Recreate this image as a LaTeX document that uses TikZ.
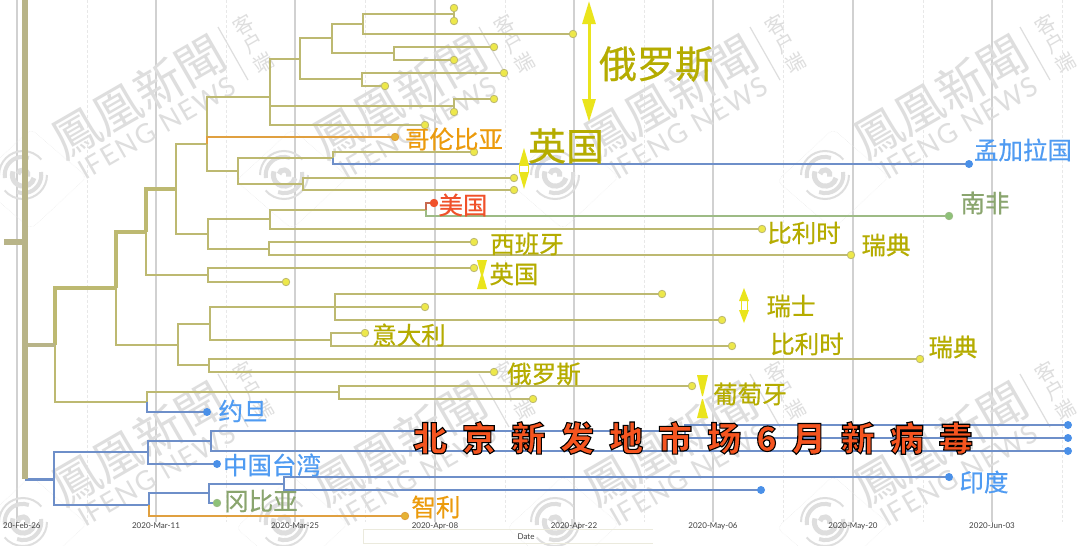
\documentclass[tikz,border=0pt]{standalone}
\usepackage{fontspec}
\setmainfont[FakeBold=0.6]{Noto Sans CJK SC}
\setsansfont{Lato}
\newfontfamily\wmfont{Noto Sans CJK TC}
\newfontfamily\wmlatin[LetterSpace=6]{Lato}
\newfontfamily\headfont[FakeBold=3.2]{Noto Sans CJK SC Black}
\usetikzlibrary{arrows.meta}
\definecolor{olv}{HTML}{BDB971}
\definecolor{khk}{HTML}{B8B488}
\definecolor{blu}{HTML}{6E8FC9}
\definecolor{org}{HTML}{E0A040}
\definecolor{grn}{HTML}{9DBB85}
\definecolor{rdl}{HTML}{C86A50}
\definecolor{ylw}{HTML}{EDE84A}
\definecolor{yarr}{HTML}{EAE41C}
\definecolor{tblu}{HTML}{4A90E8}
\definecolor{lolv}{HTML}{B5AC00}
\definecolor{lblu}{HTML}{4F9BF2}
\definecolor{lorg}{HTML}{EC9B0C}
\definecolor{lred}{HTML}{F0512A}
\definecolor{lgrn}{HTML}{8AA56E}
\definecolor{wm}{HTML}{DEDEDE}
\tikzset{
	br/.style={line width=2pt, color=olv},
	brm/.style={line width=2.6pt, color=olv},
	brt/.style={line width=3.4pt, color=olv},
	brb/.style={line width=2pt, color=blu},
	tip/.style={circle, inner sep=0pt, minimum size=7.5pt, fill=ylw, draw=olv, line width=0.8pt},
	tipb/.style={circle, inner sep=0pt, minimum size=8pt, fill=tblu},
	lab/.style={text=lolv, font=\fontsize{24.5}{24.5}\selectfont, inner sep=0pt},
	labb/.style={lab, text=lblu},
	gridmaj/.style={line width=1.2pt, color=black!18},
	gridmin/.style={line width=0.9pt, color=black!9, densely dashed},
	axl/.style={font=\sffamily\fontsize{8}{8}\selectfont, text=black!75, inner sep=0pt},
	bowt/.style={fill=yarr, draw=none},
	yarw/.style={color=yarr, line width=3pt},
	ybox/.style={fill=white, draw=yarr, line width=1pt}
}
\def\watermark(#1,#2){
	\begin{scope}[shift={(#1,#2)}]
		\draw[wm!60, line width=0.5pt, densely dotted, rounded corners=6pt] (-48,6) -- (8,-46) -- (64,2) -- (8,54) -- cycle;
		\draw[wm, line width=2pt] (24,0) arc (0:140:24);
		\draw[wm, line width=2pt] (-24,0) arc (180:320:24);
		\draw[wm, line width=4pt] (18,-3) arc (-10:110:18);
		\draw[wm, line width=4pt] (-18,3) arc (170:290:18);
		\draw[wm, line width=5pt] (11,3) arc (15:200:11);
		\draw[wm, line width=5pt] (-5,-1) arc (190:380:5);
		\node[rotate=30, text=wm, font=\wmfont\fontsize{48}{48}\selectfont, inner sep=0pt] at (115,-78) {鳳凰新聞};
		\draw[wm, line width=1.2pt] (195,-148) -- (225,-95);
		\node[rotate=30, text=wm, font=\wmfont\fontsize{20}{20}\selectfont, inner sep=0pt] at (220,-150) {客};
		\node[rotate=30, text=wm, font=\wmfont\fontsize{20}{20}\selectfont, inner sep=0pt] at (230,-132) {户};
		\node[rotate=30, text=wm, font=\wmfont\fontsize{20}{20}\selectfont, inner sep=0pt] at (240,-112) {端};
		\node[rotate=30, text=wm, font=\wmlatin\fontsize{27}{27}\selectfont, inner sep=0pt] at (134,-47) {IFENG NEWS};
	\end{scope}
}
\begin{document}
\begin{tikzpicture}[x=1pt,y=-1pt]
	\useasboundingbox (0,0) rectangle (1080,546);
	\fill[white] (0,0) rectangle (1080,546);
	
	%%%%% GRID %%%%%
	\draw[gridmaj] (17,0) -- (17,522);
	\draw[gridmin] (87,0) -- (87,522);
	\draw[gridmaj] (156,0) -- (156,522);
	\draw[gridmin] (226,0) -- (226,522);
	\draw[gridmaj] (295,0) -- (295,522);
	\draw[gridmin] (365,0) -- (365,522);
	\draw[gridmaj] (435,0) -- (435,522);
	\draw[gridmin] (505,0) -- (505,522);
	\draw[gridmaj] (574,0) -- (574,522);
	\draw[gridmin] (644,0) -- (644,522);
	\draw[gridmaj] (713,0) -- (713,522);
	\draw[gridmin] (783,0) -- (783,522);
	\draw[gridmaj] (853,0) -- (853,522);
	\draw[gridmin] (923,0) -- (923,522);
	\draw[gridmaj] (992,0) -- (992,522);
	\draw[gridmin] (1062,0) -- (1062,522);
	
	%%%%% WATERMARKS %%%%%
	\watermark(23,175)
	\watermark(284,175)
	\watermark(555,175)
	\watermark(825,175)
	\watermark(23,522)
	\watermark(284,522)
	\watermark(555,522)
	\watermark(825,522)
	
	%%%%% AXIS %%%%%
	\node[axl, anchor=west] (ax0) at (3,526) {20-Feb-26};
	\node[axl] (ax1) at (156,526) {2020-Mar-11};
	\node[axl] (ax2) at (295,526) {2020-Mar-25};
	\node[axl] (ax3) at (435,526) {2020-Apr-08};
	\node[axl] (ax4) at (574,526) {2020-Apr-22};
	\node[axl] (ax5) at (713,526) {2020-May-06};
	\node[axl] (ax6) at (853,526) {2020-May-20};
	\node[axl] (ax7) at (992,526) {2020-Jun-03};
	\draw[line width=0.8pt, color=yellow!40!black!15] (363,543) -- (363,529) -- (653,529);
	\draw[line width=0.8pt, color=yellow!40!black!15] (363,543) -- (653,543);
	\node[axl] (axdate) at (526,537) {Date};
	
	%%%%% TREE POINTS %%%%%
	\coordinate (rtop) at (25,0);
	\coordinate (rbot) at (25,479);
	\coordinate (stem) at (4,242);
	\coordinate (root) at (25,242);
	\coordinate (ca) at (55,345);
	\coordinate (cb) at (116,288);
	\coordinate (cc) at (146,232);
	\coordinate (cd) at (176,189);
	\coordinate (ce) at (207,144);
	\coordinate (cf) at (270,97);
	\coordinate (cg) at (300,59);
	\coordinate (ch) at (332,38);
	\coordinate (ci) at (363,24);
	\coordinate (cj) at (454,14);
	\coordinate (ck) at (394,53);
	\coordinate (cl) at (362,79);
	\coordinate (cm) at (454,106);
	\coordinate (cn) at (238,171);
	\coordinate (co) at (333,158);
	\coordinate (cp) at (303,184);
	\coordinate (cq) at (208,234);
	\coordinate (cr) at (270,219);
	\coordinate (cs) at (426,210);
	\coordinate (ct) at (269,249);
	\coordinate (cu) at (208,275);
	\coordinate (cv) at (178,345);
	\coordinate (cw) at (210,324);
	\coordinate (cx) at (335,307);
	\coordinate (cy) at (331,340);
	\coordinate (cz) at (209,365);
	\coordinate (da) at (147,402);
	\coordinate (db) at (339,392);
	\coordinate (ea) at (54,479);
	\coordinate (eb) at (148,452);
	\coordinate (ec) at (211,441);
	\coordinate (ed) at (685,431);
	\coordinate (ee) at (149,505);
	\coordinate (ef) at (209,493);
	\coordinate (eg) at (284,484);
	
	%%%%% BRANCHES %%%%%
	\draw[brt] (ca) |- (cb);
	\draw[brm] (ca) |- (da);
	\draw[brt] (cb) |- (cc);
	\draw[brm] (cb) |- (cv);
	\draw[brt] (cc) |- (cd);
	\draw[br] (cc) |- (cu);
	\draw[brm] (cd) |- (ce);
	\draw[br] (cd) |- (cq);
	\draw[brm] (ce) |- (cf);
	\draw[br] (ce) |- (cn);
	\draw[br] (cf) |- (cg);
	\draw[br] (cg) |- (ch);
	\draw[br] (ch) |- (ci);
	\draw[br] (ci) |- (cj);
	\draw[br] (ch) |- (ck);
	\draw[br] (cg) |- (cl);
	\draw[br] (cf) |- (cm);
	\draw[br] (cn) |- (co);
	\draw[br] (cn) |- (cp);
	\draw[br] (cq) |- (cr);
	\draw[br] (cq) |- (ct);
	\draw[br] (cr) |- (cs);
	\draw[br] (cv) |- (cw);
	\draw[br] (cv) |- (cz);
	\draw[br] (cw) |- (cx);
	\draw[br] (cw) |- (cy);
	\draw[br] (da) |- (db);
	
	%%%%% TIPS %%%%%
	\draw[br] (ci) |- (573,34) node[tip] (t01) {};
	\draw[br] (cj) |- (454,8) node[tip] (t02) {};
	\draw[br] (cj) |- (454,21) node[tip] (t03) {};
	\draw[br] (ck) |- (494,47) node[tip] (t04) {};
	\draw[br] (ck) |- (454,60) node[tip] (t05) {};
	\draw[br] (cl) |- (504,73) node[tip] (t06) {};
	\draw[br] (cl) |- (385,86) node[tip] (t07) {};
	\draw[br] (cm) |- (494,99) node[tip] (t08) {};
	\draw[br] (cm) |- (454,112) node[tip] (t09) {};
	\draw[br] (cf) |- (425,125) node[tip] (t10) {};
	\draw[line width=1.6pt, color=org] (ce) |- (395,137) node[tip, fill=org!80!yellow, draw=org] (t11) {};
	\draw[br] (co) |- (474,152) node[tip] (t12) {};
	\draw[line width=2pt, color=blu] (co) |- (969,164) node[tipb] (t13) {};
	\draw[br] (cp) |- (514,178) node[tip] (t14) {};
	\draw[br] (cp) |- (514,190) node[tip] (t15) {};
	\draw[line width=1.6pt, color=rdl] (cs) |- (434,203) node[tip, fill=lred, draw=lred] (t16) {};
	\draw[line width=1.8pt, color=grn] (cs) |- (949,216) node[tip, fill=grn!90!green, draw=grn] (t17) {};
	\draw[br] (cr) |- (762,229) node[tip] (t18) {};
	\draw[br] (ct) |- (474,242) node[tip] (t19) {};
	\draw[br] (ct) |- (851,255) node[tip] (t20) {};
	\draw[br] (cu) |- (474,268) node[tip] (t21) {};
	\draw[br] (cu) |- (286,282) node[tip] (t22) {};
	\draw[br] (cx) |- (662,294) node[tip] (t23) {};
	\draw[br] (cx) -- (425,307) node[tip] (t24) {};
	\draw[br] (cx) |- (722,320) node[tip] (t25) {};
	\draw[br] (cy) |- (365,333) node[tip] (t26) {};
	\draw[br] (cy) |- (732,346) node[tip] (t27) {};
	\draw[br] (cz) |- (920,359) node[tip] (t28) {};
	\draw[br] (cz) |- (494,372) node[tip] (t29) {};
	\draw[br] (db) |- (692,386) node[tip] (t30) {};
	\draw[br] (db) |- (533,399) node[tip] (t31) {};
	\draw[brb] (da) |- (207,412) node[tipb] (t32) {};
	
	%%%%% BLUE PART %%%%%
	\draw[brb] (ea) |- (eb);
	\draw[brb] (ea) |- (ee);
	\draw[brb] (eb) |- (ec);
	\draw[brb] (eb) |- (217,464) node[tipb] (t33) {};
	\draw[brb] (ec) |- (ed);
	\draw[brb] (ed) |- (1068,425) node[tipb] (t34) {};
	\draw[brb] (ed) |- (1068,438) node[tipb] (t35) {};
	\draw[brb] (ec) |- (1068,451) node[tipb] (t36) {};
	\draw[brb] (ee) |- (ef);
	\draw[line width=1.8pt, color=org] (ee) |- (405,516) node[tip, fill=org!80!yellow, draw=org] (t37) {};
	\draw[brb] (ef) |- (eg);
	\draw[line width=1.8pt, color=blu] (ef) |- (217,503) node[tip, fill=grn!90!green, draw=grn] (t38) {};
	\draw[brb] (eg) |- (949,477) node[tipb] (t39) {};
	\draw[brb] (eg) |- (761,490) node[tipb] (t40) {};
	
	%%%%% ROOT %%%%%
	\draw[line width=3pt, color=blu] (rbot) -- (ea);
	\draw[line width=3.4pt, color=khk] (root |- ca) -- (ca);
	\draw[line width=6pt, color=khk] (rtop) -- (rbot);
	\draw[line width=6pt, color=khk] (stem) -- (root);
	
	%%%%% ARROWS %%%%%
	\coordinate (ar1a) at (589,1);
	\coordinate (ar1b) at (589,122);
	\draw[yarw, {Triangle[length=23pt,width=13pt]}-{Triangle[length=23pt,width=13pt]}] (ar1a) -- (ar1b);
	\fill[ybox] (519.5,165) rectangle (528.5,172);
	\fill[bowt] (524,148) -- (529,165) -- (519,165) -- cycle;
	\fill[bowt] (524,189) -- (529,172) -- (519,172) -- cycle;
	\fill[ybox] (741,300) rectangle (747,311);
	\fill[bowt] (744,288) -- (749,301) -- (739,301) -- cycle;
	\fill[bowt] (744,323) -- (749,310) -- (739,310) -- cycle;
	\fill[bowt] (477,260) -- (487,260) -- (483,275) -- (487,289) -- (477,289) -- (481,275) -- cycle;
	\fill[bowt] (697,375) -- (708,375) -- (703,396) -- (702,396) -- cycle;
	\fill[bowt] (702,399) -- (703,399) -- (708,418) -- (697,418) -- cycle;
	
	%%%%% LABELS %%%%%
	\node[lab, font=\fontsize{38}{38}\selectfont] (ruA) at (656,64) {俄罗斯};
	\node[lab, font=\fontsize{38}{38}\selectfont] (ukA) at (566,146) {英国};
	\node[labb] (bgd) at (1023,150) {孟加拉国};
	\node[lab, text=lorg] (col) at (454,139) {哥伦比亚};
	\node[lab, text=lgrn] (zaf) at (985,203) {南非};
	\node[lab, text=lred] (usa) at (463,205) {美国};
	\node[lab] (beA) at (804,233) {比利时};
	\node[lab] (seA) at (886,245) {瑞典};
	\node[lab] (esp) at (527,244) {西班牙};
	\node[lab] (ukB) at (514,274) {英国};
	\node[lab] (che) at (791,306) {瑞士};
	\node[lab] (ita) at (409,335) {意大利};
	\node[lab] (beB) at (807,344) {比利时};
	\node[lab] (seB) at (953,347) {瑞典};
	\node[lab] (ruB) at (544,374) {俄罗斯};
	\node[lab] (prt) at (750,394) {葡萄牙};
	\node[labb] (jor) at (243,411) {约旦};
	\node[labb] (twn) at (272,465) {中国台湾};
	\node[lab, text=lgrn] (gmb) at (261,501) {冈比亚};
	\node[lab, text=lorg] (chl) at (436,507) {智利};
	\node[labb] (ind) at (984,482) {印度};
	
	%%%%% HEADLINE %%%%%
	\node[inner sep=0pt, font=\headfont\fontsize{34}{34}\selectfont] (head) at (693,438) {\spaceskip=15pt\special{pdf:bcolor [0.96 0.33 0.12] [0 0 0]}北 京 新 发 地 市 场 6 月 新 病 毒\special{pdf:ecolor}};
\end{tikzpicture}
\end{document}
